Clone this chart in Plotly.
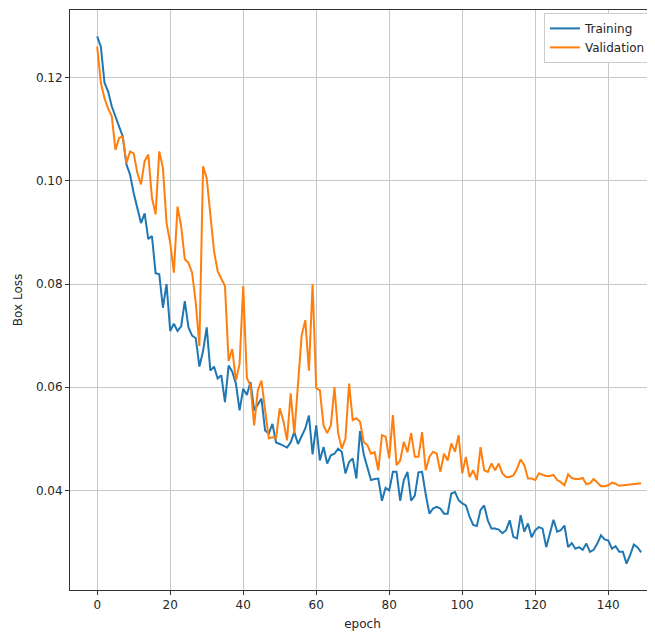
import plotly.graph_objects as go

training = [
    0.128, 0.126, 0.119, 0.1173, 0.1144, 0.1125, 0.1105, 0.1086, 0.1032, 0.1012,
    0.0976, 0.0947, 0.0918, 0.0937, 0.0887, 0.0893, 0.0821, 0.0819, 0.0754, 0.080,
    0.0709, 0.0723, 0.0709, 0.0718, 0.0767, 0.0716, 0.070, 0.0695, 0.064, 0.067,
    0.0716, 0.0632, 0.064, 0.0617, 0.0623, 0.0571, 0.0642, 0.063, 0.0607, 0.0555,
    0.0597, 0.0585, 0.061, 0.0555, 0.0568, 0.0578, 0.0516, 0.051, 0.0529, 0.0493,
    0.049, 0.0487, 0.0483, 0.0493, 0.0513, 0.049, 0.0506, 0.052, 0.0545, 0.047,
    0.0526, 0.0458, 0.0484, 0.0452, 0.0468, 0.0471, 0.0481, 0.0475, 0.0433, 0.0455,
    0.0462, 0.0423, 0.0515, 0.047, 0.0445, 0.042, 0.0422, 0.0423, 0.038, 0.0405,
    0.040, 0.0436, 0.0436, 0.038, 0.042, 0.0436, 0.038, 0.039, 0.0435, 0.0436,
    0.0392, 0.0355, 0.0365, 0.0368, 0.0365, 0.0355, 0.0355, 0.0394, 0.0397, 0.0381,
    0.0375, 0.0371, 0.0349, 0.0333, 0.0331, 0.0362, 0.0371, 0.0342, 0.0326, 0.0326,
    0.0324, 0.0317, 0.0323, 0.0342, 0.031, 0.0307, 0.0352, 0.032, 0.0336, 0.0309,
    0.0323, 0.0329, 0.0326, 0.029, 0.0316, 0.0343, 0.032, 0.0323, 0.0332, 0.029,
    0.0298, 0.0287, 0.029, 0.0285, 0.0297, 0.0281, 0.0285, 0.0297, 0.0313, 0.0305,
    0.0303, 0.0287, 0.0292, 0.0281, 0.0281, 0.0258, 0.0275, 0.0295, 0.029, 0.028,
]

validation = [
    0.126, 0.119, 0.116, 0.114, 0.1125, 0.106, 0.1083, 0.1086, 0.1034, 0.1057,
    0.1053, 0.1015, 0.0993, 0.1038, 0.1051, 0.0967, 0.0935, 0.1057, 0.1025, 0.0918,
    0.088, 0.0822, 0.095, 0.0912, 0.0848, 0.0841, 0.0822, 0.0764, 0.068, 0.1028,
    0.1005, 0.0941, 0.0864, 0.0825, 0.081, 0.0796, 0.0651, 0.0674, 0.0613, 0.0645,
    0.0796, 0.0618, 0.0603, 0.0526, 0.0594, 0.0613, 0.0555, 0.0501, 0.0503, 0.0502,
    0.0559, 0.0535, 0.0497, 0.0588, 0.051, 0.061, 0.070, 0.073, 0.0632, 0.080,
    0.0598, 0.0594, 0.0526, 0.0511, 0.0526, 0.060, 0.0511, 0.0481, 0.050, 0.0607,
    0.0536, 0.054, 0.0533, 0.0494, 0.0488, 0.0471, 0.0474, 0.0439, 0.0507, 0.0504,
    0.0462, 0.0546, 0.0449, 0.0458, 0.0494, 0.0474, 0.0511, 0.0465, 0.0465, 0.0513,
    0.0439, 0.0465, 0.0475, 0.0471, 0.0436, 0.0471, 0.0458, 0.0491, 0.0475, 0.0507,
    0.0433, 0.0465, 0.0426, 0.0439, 0.042, 0.0484, 0.0439, 0.0436, 0.0452, 0.0439,
    0.0452, 0.0433, 0.0426, 0.0426, 0.0429, 0.0442, 0.046, 0.0449, 0.0423, 0.0423,
    0.042, 0.0433, 0.043, 0.0428, 0.0428, 0.043, 0.042, 0.0416, 0.041, 0.0431,
    0.0424, 0.0422, 0.0422, 0.0424, 0.0412, 0.0414, 0.0422, 0.0414, 0.0408, 0.0408,
    0.041, 0.0415, 0.0413, 0.0409, 0.041, 0.041, 0.0411, 0.0412, 0.0413, 0.0414,
]

x_ticks = [0, 20, 40, 60, 80, 100, 120, 140]
y_ticks = [0.04, 0.06, 0.08, 0.10, 0.12]

fig = go.Figure()
fig.add_trace(go.Scatter(x=list(range(len(training))), y=training, mode="lines",
                         name="Training", line=dict(color="#1f77b4", width=2)))
fig.add_trace(go.Scatter(x=list(range(len(validation))), y=validation, mode="lines",
                         name="Validation", line=dict(color="#ff7f0e", width=2)))

axis_font = dict(family="DejaVu Sans", size=12, color="#262626")
fig.update_layout(
    width=647, height=627,
    margin=dict(l=62, r=0, t=2, b=45),
    paper_bgcolor="white", plot_bgcolor="white",
    font=dict(family="DejaVu Sans", size=12, color="#262626"),
    xaxis=dict(range=[-7.45, 152.8], tickvals=x_ticks, showgrid=True,
               gridcolor="#c8c8c8", gridwidth=1, zeroline=False,
               showline=True, linecolor="#333", linewidth=1, mirror=True,
               ticks="outside", ticklen=4, tickcolor="#333", tickfont=axis_font,
               title=dict(text="epoch", font=axis_font, standoff=8)),
    yaxis=dict(range=[0.0207, 0.1331], tickvals=y_ticks, tickformat=".2f",
               showgrid=True, gridcolor="#c8c8c8", gridwidth=1, zeroline=False,
               showline=True, linecolor="#333", linewidth=1,
               ticks="outside", ticklen=4, tickcolor="#333", tickfont=axis_font,
               title=dict(text="Box Loss", font=axis_font, standoff=10)),
    legend=dict(x=0.993, y=0.995, xanchor="right", yanchor="top",
                bgcolor="white", bordercolor="#cccccc", borderwidth=1,
                font=dict(family="DejaVu Sans", size=12, color="#262626"),
                itemwidth=30, tracegroupgap=2),
    showlegend=True,
)

fig.write_html("out.html")
